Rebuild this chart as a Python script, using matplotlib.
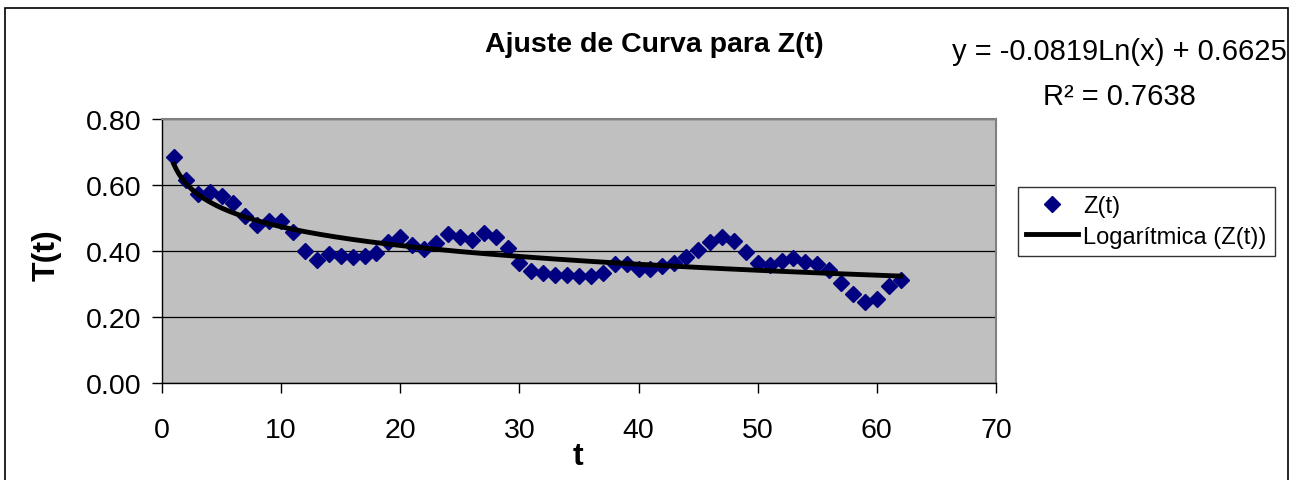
import numpy as np
import matplotlib
matplotlib.use("Agg")
import matplotlib.pyplot as plt
from matplotlib.patches import Rectangle

plt.rcParams['font.family'] = ['Liberation Sans', 'DejaVu Sans']

# datos
t = list(range(1, 63))
z = [0.685, 0.614, 0.574, 0.579, 0.567, 0.546, 0.505, 0.478, 0.490, 0.491,
     0.458, 0.399, 0.372, 0.392, 0.384, 0.382, 0.384, 0.394, 0.429, 0.442,
     0.420, 0.407, 0.425, 0.452, 0.442, 0.435, 0.454, 0.444, 0.409, 0.365,
     0.341, 0.333, 0.329, 0.329, 0.326, 0.326, 0.334, 0.361, 0.361, 0.346,
     0.346, 0.356, 0.364, 0.382, 0.402, 0.427, 0.444, 0.432, 0.397, 0.365,
     0.358, 0.369, 0.380, 0.367, 0.361, 0.344, 0.304, 0.271, 0.245, 0.255,
     0.296, 0.314]

# coeficientes de la linea de tendencia (Excel)
a_coef = -0.0819
b_coef = 0.6625
r2 = 0.7638

xticks = [0, 10, 20, 30, 40, 50, 60, 70]
yticks = [0.0, 0.2, 0.4, 0.6, 0.8]

W, H = 1303, 481
fig = plt.figure(figsize=(W / 100, H / 100), dpi=100)
ax = fig.add_axes([162 / W, 1 - 384.3 / H, (996 - 162) / W, (384.3 - 120) / H])
ax.set_facecolor('#C0C0C0')

tt = np.linspace(t[0], t[-1], 300)
ax.plot(t, z, linestyle='none', marker='D', markersize=8, color='#000080',
        label='Z(t)', zorder=3)
ax.plot(tt, a_coef * np.log(tt) + b_coef, color='black', linewidth=3.5,
        label='Logarítmica (Z(t))', zorder=4)

ax.set_xlim(0, 70)
ax.set_ylim(0, 0.8)
ax.set_xticks(xticks)
ax.set_yticks(yticks)
ax.set_yticklabels(['%.2f' % v for v in yticks])
ax.yaxis.grid(True, color='black', linewidth=0.9)
ax.set_axisbelow(True)
ax.tick_params(axis='both', direction='out', length=7, width=1, labelsize=20.5)
ax.tick_params(axis='x', pad=17)
ax.tick_params(axis='y', pad=8)
for s in ['top', 'right']:
    ax.spines[s].set_color('#808080')
    ax.spines[s].set_linewidth(1.5)
for s in ['left', 'bottom']:
    ax.spines[s].set_color('black')
    ax.spines[s].set_linewidth(1)

fig.text(0.502, 0.907, 'Ajuste de Curva para Z(t)', ha='center', va='center',
         fontsize=20.5, fontweight='bold')
fig.text(0.036, 0.47, 'T(t)', ha='center', va='center', rotation=90,
         fontsize=23, fontweight='bold')
fig.text(0.4436, 0.05, 't', ha='center', va='center',
         fontsize=23, fontweight='bold')

fig.text(0.859, 0.892, 'y = %.4fLn(x) + %.4f' % (a_coef, b_coef),
         ha='center', va='center', fontsize=21)
fig.text(0.859, 0.798, 'R² = %.4f' % r2, ha='center', va='center', fontsize=21)

leg = fig.legend(loc='upper left', bbox_to_anchor=(1018 / W, 1 - 188 / H),
                 fontsize=17, frameon=True, fancybox=False, edgecolor='black',
                 handlelength=2.2, handletextpad=0.2, borderpad=0.35,
                 labelspacing=0.35, borderaxespad=0)
leg.get_frame().set_linewidth(1)

fig.patches.append(Rectangle((4.5 / W, -0.02), (1288 - 4.5) / W, 1 - 9 / H + 0.02,
                             transform=fig.transFigure, fill=False,
                             edgecolor='black', linewidth=1.2))

fig.savefig('out.png', dpi=100)
